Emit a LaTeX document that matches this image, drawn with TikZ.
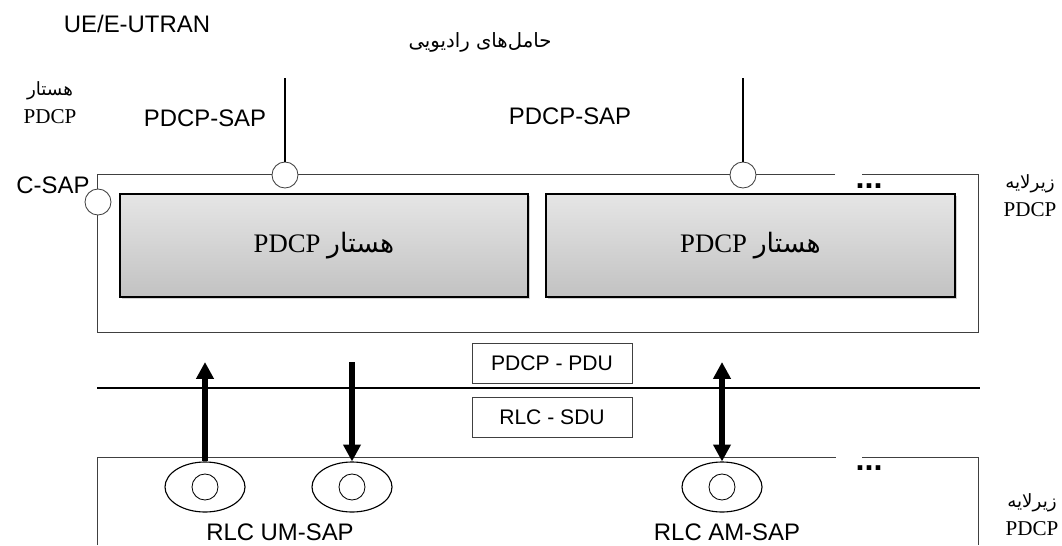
\documentclass[tikz,border=0pt]{standalone}
\usepackage{fontspec}
\setmainfont{Liberation Serif}
\newfontfamily\arialfont{Liberation Sans}
\newfontfamily\farsifont[Script=Arabic]{DejaVu Sans}
\TeXXeTstate=1
\usetikzlibrary{shapes.geometric, arrows.meta, positioning, calc, shadows}

\tikzset{
  sap/.style={circle, draw=black!75, fill=white, line width=0.6pt, minimum size=0.65cm, inner sep=0pt},
  entity/.style={draw=black, line width=1.1pt, top color=black!10, bottom color=black!24,
    minimum height=2.575cm, font=\fontsize{19}{22}\selectfont,
    drop shadow={shadow xshift=1.2pt, shadow yshift=-1.2pt, opacity=0.35}},
  pdu/.style={draw=black!75, fill=white, line width=0.6pt, minimum width=4cm, minimum height=1cm,
    font=\arialfont\fontsize{15}{17}\selectfont},
  rlcsap/.style={ellipse, draw=black, line width=0.8pt, minimum width=2cm, minimum height=1.25cm, inner sep=0pt},
  lbl/.style={font=\arialfont\fontsize{17}{20}\selectfont},
  sidelbl/.style={font=\fontsize{15}{18}\selectfont, align=center},
  bigarrow/.style={line width=4.3pt},
}

\begin{document}
\begin{tikzpicture}[x=0.025cm, y=-0.025cm, >={Triangle[length=12pt,width=12pt]}]
\useasboundingbox (0,0) rectangle (1062,545);

% frames of the two sublayers
\draw[black!75, line width=0.6pt] (835,174) -- (97,174) -- (97,332) -- (978,332) -- (978,174) -- (862,174);
\draw[black!75, line width=0.6pt] (97,545) -- (97,457) -- (836,457);
\draw[black!75, line width=0.6pt] (862,457) -- (978,457) -- (978,545);
% boundary between PDCP and RLC
\draw[line width=0.8pt] (97,388) -- (980,388);

% PDCP entities
\node[entity, minimum width=10.2cm] (ent1) at (324,245.5)
  {\beginR{\farsifont\fontsize{19}{22}\selectfont هستار} \beginL PDCP\endL\endR};
\node[entity, minimum width=10.225cm] (ent2) at (750.5,245.5)
  {\beginR{\farsifont\fontsize{19}{22}\selectfont هستار} \beginL PDCP\endL\endR};

% service access points on top
\node[sap] (csap) at (98,202) {};
\node[sap] (sap1) at (285,175) {};
\node[sap] (sap2) at (743,175) {};
\coordinate (bearer1) at (285,78);
\coordinate (bearer2) at (743,78);
\draw[line width=0.8pt] (bearer1) -- (sap1);
\draw[line width=0.8pt] (bearer2) -- (sap2);

% top labels
\node[lbl] (ue) at (137,24) {UE/E-UTRAN};
\node[font=\farsifont\fontsize{14}{17}\selectfont] (radiob) at (480,42) {\beginR حامل‌های رادیویی\endR};
\node[sidelbl] (entl) at (50,103) {{\farsifont\fontsize{13}{16}\selectfont\beginR هستار\endR}\\[2pt]PDCP};
\node[lbl] (saplbl1) at (205,118) {PDCP-SAP};
\node[lbl] (saplbl2) at (570,116) {PDCP-SAP};
\node[lbl] (csaplbl) at (53,185) {C-SAP};
\node[sidelbl] (subtop) at (1030,196) {{\farsifont\fontsize{13}{16}\selectfont\beginR زیرلایه\endR}\\[2pt]PDCP};
\node[sidelbl] (subbot) at (1032,515) {{\farsifont\fontsize{13}{16}\selectfont\beginR زیرلایه\endR}\\[2pt]PDCP};
\node[font=\arialfont\bfseries\fontsize{23}{25}\selectfont, anchor=base] (dots1) at (869,188) {...};
\node[font=\arialfont\bfseries\fontsize{23}{25}\selectfont, anchor=base] (dots2) at (869,470) {...};

% PDU / SDU boxes
\node[pdu] (pdcppdu) at (552,363) {PDCP - PDU};
\node[pdu] (rlcsdu) at (552,417.5) {RLC - SDU};

% RLC service access points
\foreach \n/\x in {um1/205, um2/352, am/722} {
  \node[rlcsap] (\n) at (\x,487) {};
  \node[sap, draw=black] (\n-in) at (\n) {};
}
\node[lbl] (umlbl) at (280,532) {RLC UM-SAP};
\node[lbl] (amlbl) at (727,532) {RLC AM-SAP};

% data flow
\coordinate (um1top) at (205,362);
\coordinate (um2top) at (352,362);
\coordinate (amtop) at (722,362);
\draw[bigarrow, ->] (um1.north) -- (um1top);
\draw[bigarrow, ->] (um2top) -- (um2.north);
\draw[bigarrow, <->] (amtop) -- (am.north);
\end{tikzpicture}
\end{document}
